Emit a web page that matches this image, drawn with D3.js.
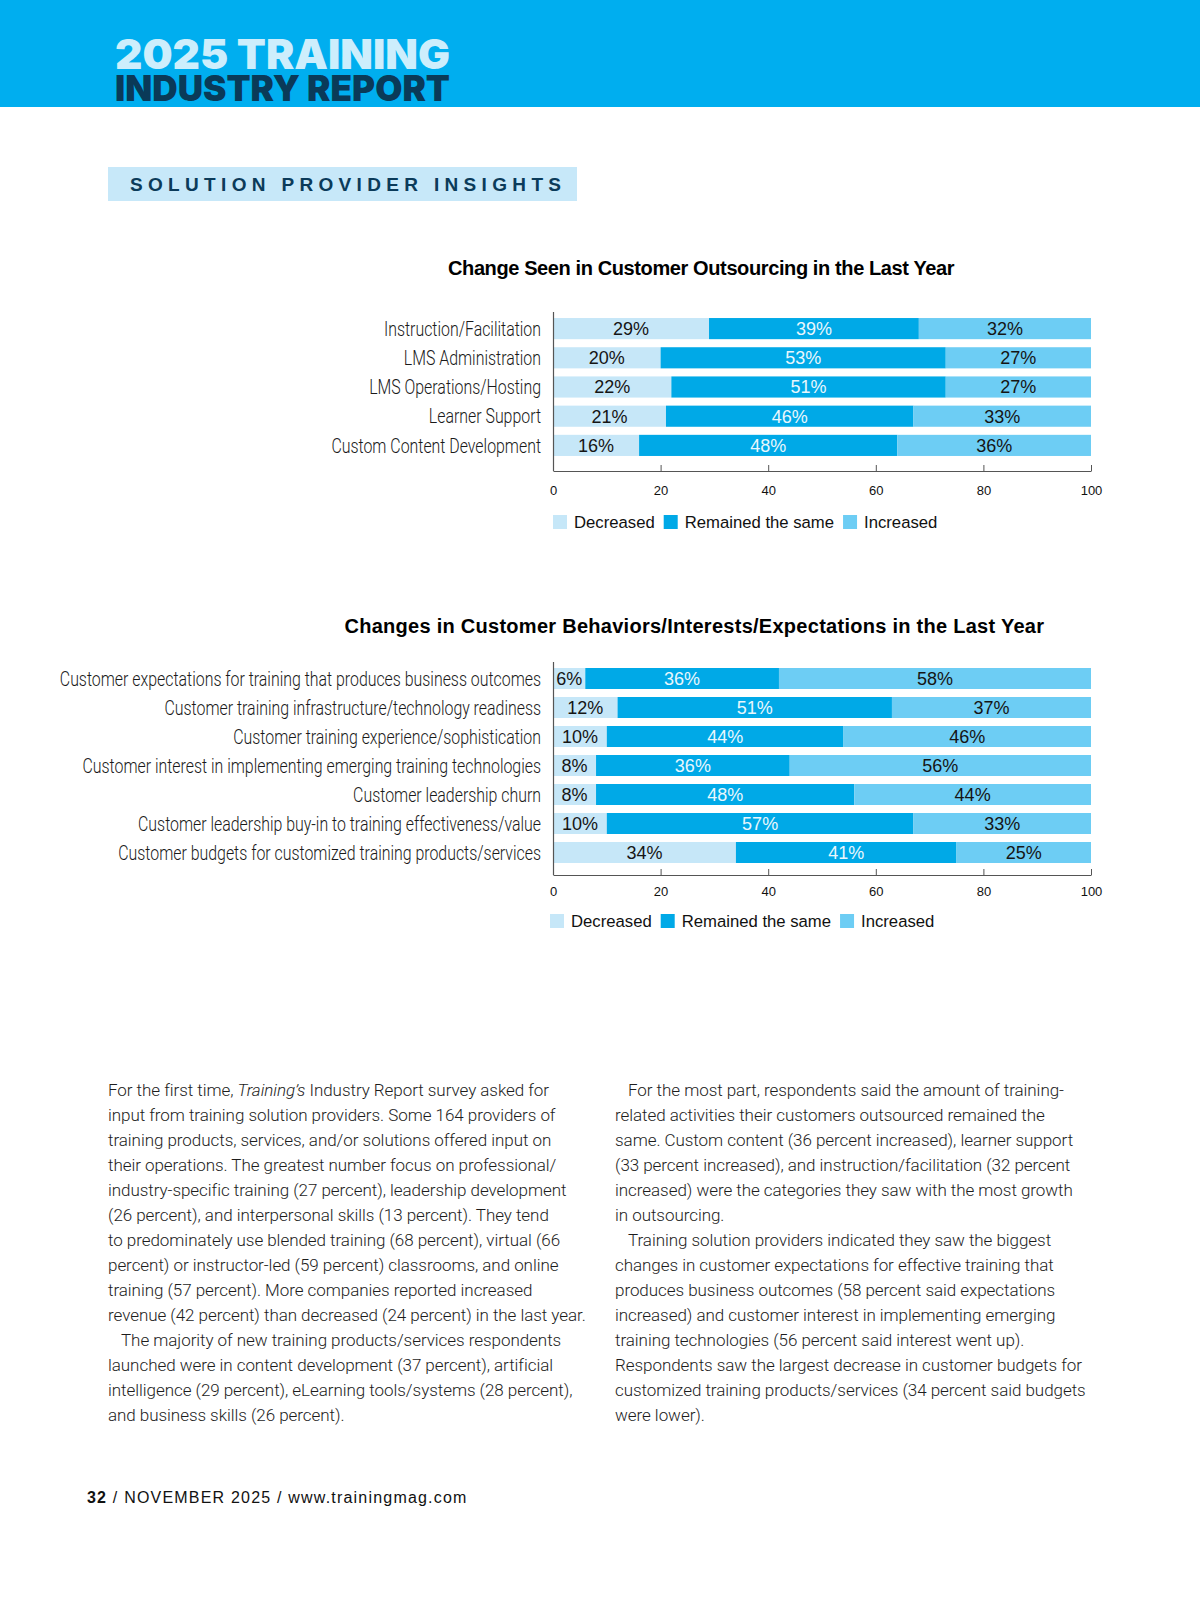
<!DOCTYPE html>
<html>
<head>
<meta charset="utf-8">
<script src="https://cdn.jsdelivr.net/npm/d3@7"></script>
<style>
  body { margin: 0; background: #fff; }
  svg  { display: block; }
</style>
</head>
<body>
<svg id="page" width="1200" height="1613"></svg>
<script>
/* ── data ─────────────────────────────────────────────────────────── */

const seriesNames = ['Decreased', 'Remained the same', 'Increased'];
const xTicks = [0, 20, 40, 60, 80, 100];

const outsourcingCategories = [
  'Instruction/Facilitation',
  'LMS Administration',
  'LMS Operations/Hosting',
  'Learner Support',
  'Custom Content Development'
];
const outsourcingDecreased = [29, 20, 22, 21, 16];
const outsourcingSame      = [39, 53, 51, 46, 48];
const outsourcingIncreased = [32, 27, 27, 33, 36];

const behaviorCategories = [
  'Customer expectations for training that produces business outcomes',
  'Customer training infrastructure/technology readiness',
  'Customer training experience/sophistication',
  'Customer interest in implementing emerging training technologies',
  'Customer leadership churn',
  'Customer leadership buy-in to training effectiveness/value',
  'Customer budgets for customized training products/services'
];
const behaviorDecreased = [6, 12, 10, 8, 8, 10, 34];
const behaviorSame      = [36, 51, 44, 36, 48, 57, 41];
const behaviorIncreased = [58, 37, 46, 56, 44, 33, 25];

const leftColumn = [
  [['For the first time, ', 0], ['Training’s', 1], [' Industry Report survey asked for', 0]],
  [['input from training solution providers. Some 164 providers of', 0]],
  [['training products, services, and/or solutions offered input on', 0]],
  [['their operations. The greatest number focus on professional/', 0]],
  [['industry-specific training (27 percent), leadership development', 0]],
  [['(26 percent), and interpersonal skills (13 percent). They tend', 0]],
  [['to predominately use blended training (68 percent), virtual (66', 0]],
  [['percent) or instructor-led (59 percent) classrooms, and online', 0]],
  [['training (57 percent). More companies reported increased', 0]],
  [['revenue (42 percent) than decreased (24 percent) in the last year.', 0]],
  [['The majority of new training products/services respondents', 0]],
  [['launched were in content development (37 percent), artificial', 0]],
  [['intelligence (29 percent), eLearning tools/systems (28 percent),', 0]],
  [['and business skills (26 percent).', 0]]
];
const leftIndented = [10];

const rightColumn = [
  [['For the most part, respondents said the amount of training-', 0]],
  [['related activities their customers outsourced remained the', 0]],
  [['same. Custom content (36 percent increased), learner support', 0]],
  [['(33 percent increased), and instruction/facilitation (32 percent', 0]],
  [['increased) were the categories they saw with the most growth', 0]],
  [['in outsourcing.', 0]],
  [['Training solution providers indicated they saw the biggest', 0]],
  [['changes in customer expectations for effective training that', 0]],
  [['produces business outcomes (58 percent said expectations', 0]],
  [['increased) and customer interest in implementing emerging', 0]],
  [['training technologies (56 percent said interest went up).', 0]],
  [['Respondents saw the largest decrease in customer budgets for', 0]],
  [['customized training products/services (34 percent said budgets', 0]],
  [['were lower).', 0]]
];
const rightIndented = [0, 6];

/* ── styles ───────────────────────────────────────────────────────── */

const COLORS   = ['#c6e7f8', '#00a9e7', '#6dcdf4'];
const LABEL_FG = ['#151515', '#e9f7fd', '#151515'];
const SANS     = "'Liberation Sans', Arial, Helvetica, sans-serif";
const NARROW   = 0.795;  // horizontal squeeze for the condensed category labels

const svg = d3.select('#page');

/* ── header ───────────────────────────────────────────────────────── */

svg.append('rect').attr('x', 0).attr('y', 0).attr('width', 1200).attr('height', 107)
  .attr('fill', '#00aeef');

// both masthead lines in one text block
const mast = svg.append('text')
  .attr('font-family', "Inter, " + SANS).attr('font-weight', 900);
mast.append('tspan').attr('x', 115).attr('y', 69).attr('font-size', 41)
  .attr('textLength', 335).attr('lengthAdjust', 'spacingAndGlyphs')
  .attr('fill', '#cdeefc').text('2025 TRAINING');
mast.append('tspan').attr('x', 115).attr('y', 101).attr('font-size', 35)
  .attr('textLength', 335).attr('lengthAdjust', 'spacingAndGlyphs')
  .attr('fill', '#0a3a58').text('INDUSTRY REPORT');

svg.append('rect').attr('x', 108).attr('y', 167).attr('width', 469).attr('height', 34)
  .attr('fill', '#c7e8f9');
svg.append('text').attr('x', 130).attr('y', 191)
  .attr('font-family', SANS).attr('font-weight', 700).attr('font-size', 19)
  .attr('textLength', 431).attr('lengthAdjust', 'spacing')
  .attr('fill', '#0b3b5a').text('SOLUTION PROVIDER INSIGHTS');

/* ── stacked bar chart ────────────────────────────────────────────── */

const x = d3.scaleLinear().domain([0, 100]).range([553, 1091]);

function drawChart(cfg) {
  const g = svg.append('g').attr('class', 'chart');

  const rows = cfg.categories.map((c, i) => ({
    cat: c, d: cfg.dec[i], s: cfg.same[i], inc: cfg.inc[i]
  }));
  const stack = d3.stack().keys(['d', 's', 'inc'])(rows);

  const y = d3.scaleBand().domain(cfg.categories).range(cfg.yRange)
    .paddingInner(0.276).paddingOuter(0.138);

  g.append('text').attr('x', cfg.titleX).attr('y', cfg.titleY)
    .attr('text-anchor', 'middle')
    .attr('font-family', SANS).attr('font-weight', 700).attr('font-size', 20)
    .attr('letter-spacing', -0.5)
    .attr('textLength', cfg.titleW).attr('lengthAdjust', 'spacing')
    .attr('fill', '#000').text(cfg.title);

  // segments
  const layer = g.selectAll('g.layer').data(stack).join('g')
    .attr('class', 'layer').attr('fill', (d, i) => COLORS[i]);

  layer.selectAll('rect').data(d => d).join('rect')
    .attr('x', d => x(d[0]))
    .attr('y', d => y(d.data.cat))
    .attr('width', d => x(d[1]) - x(d[0]))
    .attr('height', y.bandwidth());

  // value labels, centred in each segment
  stack.forEach((s, si) => {
    g.append('g').selectAll('text').data(s).join('text')
      .attr('x', d => x((d[0] + d[1]) / 2))
      .attr('y', d => y(d.data.cat) + y.bandwidth() / 2)
      .attr('dy', '0.36em')
      .attr('text-anchor', 'middle')
      .attr('font-family', SANS).attr('font-size', 18)
      .attr('fill', LABEL_FG[si])
      .text(d => `${d[1] - d[0]}%`);
  });

  // category labels (condensed light)
  g.append('g').selectAll('text').data(cfg.categories).join('text')
    .attr('transform', d => `translate(541,${y(d) + y.bandwidth() / 2}) scale(${NARROW},1)`)
    .attr('dy', '0.36em')
    .attr('text-anchor', 'end')
    .attr('font-family', "Roboto, " + SANS).attr('font-size', 20).attr('font-weight', 300)
    .attr('fill', '#1a1a1a')
    .text(d => d);

  // axes
  g.append('line')
    .attr('x1', x(0) + 0.5).attr('x2', x(0) + 0.5)
    .attr('y1', cfg.axisTop).attr('y2', cfg.axisY)
    .attr('stroke', '#555').attr('stroke-width', 1.2);

  const axis = g.append('g').attr('transform', `translate(0,${cfg.axisY})`)
    .call(d3.axisBottom(x).tickValues(xTicks).tickSize(-6).tickSizeOuter(0)
      .tickPadding(cfg.tickPad));
  axis.select('.domain').attr('stroke', '#555').attr('stroke-width', 1.2);
  axis.selectAll('.tick line').attr('stroke', '#555');
  axis.selectAll('.tick text')
    .attr('font-family', SANS).attr('font-size', 13).attr('fill', '#111');

  // legend
  const leg = g.append('g').attr('transform', `translate(${cfg.legendX},${cfg.legendY})`);
  let lx = 0;
  seriesNames.forEach((name, i) => {
    leg.append('rect').attr('x', lx).attr('y', -7).attr('width', 14).attr('height', 14)
      .attr('fill', COLORS[i]);
    const t = leg.append('text').attr('x', lx + 21).attr('y', 0).attr('dy', '0.36em')
      .attr('font-family', SANS).attr('font-size', 16.7).attr('fill', '#111').text(name);
    lx += 21 + t.node().getComputedTextLength() + 9;
  });
}

drawChart({
  title: 'Change Seen in Customer Outsourcing in the Last Year',
  titleX: 701, titleY: 275, titleW: 506,
  categories: outsourcingCategories,
  dec: outsourcingDecreased, same: outsourcingSame, inc: outsourcingIncreased,
  yRange: [314, 460], axisTop: 312, axisY: 471, tickPad: 15,
  legendX: 553, legendY: 522
});

drawChart({
  title: 'Changes in Customer Behaviors/Interests/Expectations in the Last Year',
  titleX: 694, titleY: 633, titleW: 699,
  categories: behaviorCategories,
  dec: behaviorDecreased, same: behaviorSame, inc: behaviorIncreased,
  yRange: [664, 867], axisTop: 662, axisY: 875, tickPad: 12,
  legendX: 550, legendY: 921
});

/* ── body copy ────────────────────────────────────────────────────── */

function drawColumn(lines, indented, x0, y0) {
  const g = svg.append('g')
    .attr('font-family', "Roboto, " + SANS).attr('font-weight', 300)
    .attr('font-size', 17).attr('letter-spacing', -0.05).attr('fill', '#1d1d1d');
  lines.forEach((segs, i) => {
    const t = g.append('text')
      .attr('x', x0 + (indented.includes(i) ? 13 : 0))
      .attr('y', y0 + i * 25);
    segs.forEach(([s, it]) => {
      t.append('tspan').attr('font-style', it ? 'italic' : 'normal').text(s);
    });
  });
}

drawColumn(leftColumn, leftIndented, 108, 1096);
drawColumn(rightColumn, rightIndented, 615, 1096);

/* ── footer ───────────────────────────────────────────────────────── */

const foot = svg.append('text').attr('x', 87).attr('y', 1503)
  .attr('font-family', SANS).attr('font-size', 16).attr('letter-spacing', 1.2)
  .attr('fill', '#111');
foot.append('tspan').attr('font-weight', 700).text('32');
foot.append('tspan').text(' / NOVEMBER 2025 / www.trainingmag.com');
</script>
</body>
</html>
